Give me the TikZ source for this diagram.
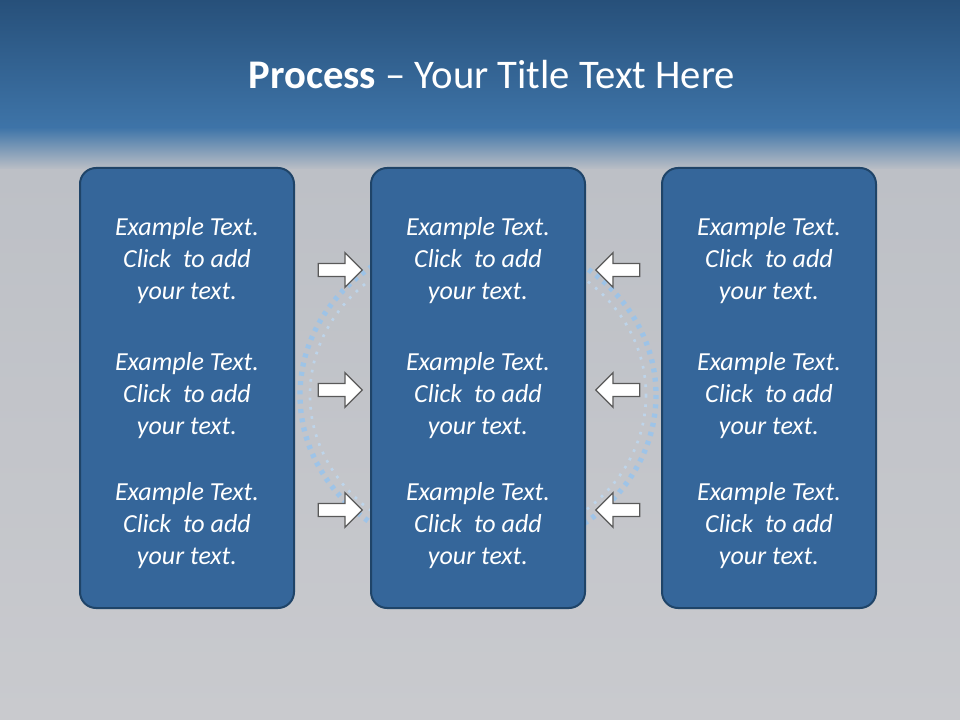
\documentclass[tikz,border=0pt]{standalone}
\usepackage{fontspec}
\setmainfont{Carlito}
\usetikzlibrary{shapes.arrows}
\definecolor{topA}{HTML}{27507A}
\definecolor{topB}{HTML}{3E74A8}
\definecolor{grayA}{HTML}{BDC0C6}
\definecolor{grayB}{HTML}{C9CACE}
\definecolor{boxfill}{HTML}{35669A}
\definecolor{boxline}{HTML}{1F4468}
\definecolor{glow}{HTML}{8FC4F5}
\tikzset{
  panel/.style={draw=boxline, line width=1.5pt, fill=boxfill, rounded corners=12pt, minimum width=160.5pt, minimum height=330pt, inner sep=0pt},
  txt/.style={text=white, font=\itshape\fontsize{19.5}{24}\selectfont, align=center},
  blk/.style={single arrow, draw=gray!70!black, fill=white, line width=0.9pt, minimum height=33pt, minimum width=26pt, single arrow head extend=4pt, inner sep=2pt}
}
\begin{document}
\begin{tikzpicture}[x=0.75pt,y=-0.75pt]
\useasboundingbox (0,0) rectangle (960,720);
\fill[top color=topA,bottom color=topB] (0,0) rectangle (960,128);
\fill[top color=topB,bottom color=grayA] (0,127.5) rectangle (960,170);
\fill[top color=grayA,bottom color=grayB] (0,169.5) rectangle (960,720);
\node[text=white, font=\fontsize{30.5}{36}\selectfont] (title) at (492,75) {\textbf{Process} – Your Title Text Here};
\draw[glow, line width=4pt, dash pattern=on 3pt off 4pt, opacity=0.7] (478,395) ellipse [x radius=178, y radius=160];
\draw[glow!60!white, line width=2pt, dash pattern=on 2pt off 5pt, opacity=0.7] (478,395) ellipse [x radius=168, y radius=150];
\foreach \n/\x in {L/187,M/478,R/769}{
  \node[panel] (\n) at (\x,388) {};
  \node[txt] (\n1) at (\x,261) {Example Text.\\Click~ to add\\your text.};
  \node[txt] (\n2) at (\x,396) {Example Text.\\Click~ to add\\your text.};
  \node[txt] (\n3) at (\x,526) {Example Text.\\Click~ to add\\your text.};
}
\foreach \i/\y in {1/270,2/390,3/510}{
  \node[blk] (ar\i) at (337,\y) {};
  \node[blk, shape border rotate=180] (al\i) at (621,\y) {};
}
\end{tikzpicture}
\end{document}
